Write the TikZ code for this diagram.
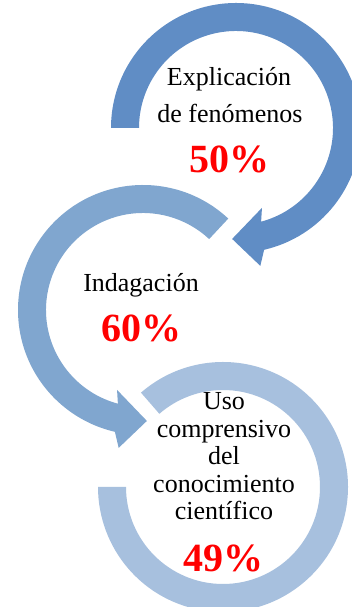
\documentclass[tikz,border=0pt]{standalone}
\usepackage{fontspec}
\setmainfont{Liberation Serif}
\definecolor{ringA}{RGB}{96,141,197}
\definecolor{ringB}{RGB}{128,166,207}
\definecolor{ringC}{RGB}{167,192,222}
\definecolor{pctred}{RGB}{255,0,0}
\begin{document}
\begin{tikzpicture}[x=1pt,y=1pt,
  lbl/.style={anchor=base, inner sep=0pt, font=\fontsize{26}{28}\selectfont, text=black},
  pct/.style={anchor=base, inner sep=0pt, font=\bfseries\fontsize{40}{40}\selectfont, text=pctred}]
\useasboundingbox (0,0) rectangle (352,607);
\clip (0,0) rectangle (352,607);
\fill[white] (0,0) rectangle (352,607);
\coordinate (c1) at (236,479);
\coordinate (c2) at (143,297);
\coordinate (c3) at (223,120);
% arrow 1 (top, clockwise)
\begin{scope}[shift={(c1)}]
\fill[ringA] (180:97) -- (180:125) arc[start angle=180,end angle=-77,radius=125]
  -- (-80:140) -- (-92:111) -- (-72:84) -- (-75:97)
  arc[start angle=-75,end angle=180,radius=97] -- cycle;
\end{scope}
% arrow 2 (middle, counter-clockwise)
\begin{scope}[shift={(c2)}]
\fill[ringB] (47:97) -- (47:125) arc[start angle=47,end angle=257,radius=125]
  -- (260:140) -- (272:111) -- (252:84) -- (255:97)
  arc[start angle=255,end angle=47,radius=97] -- cycle;
\end{scope}
% arrow 3 (bottom ring)
\begin{scope}[shift={(c3)}]
\fill[ringC] (131:125) arc[start angle=131,end angle=-180,radius=125]
  -- (180:97) arc[start angle=-180,end angle=131,radius=97] -- cycle;
\end{scope}
% texts
\node[lbl] (t1a) at (229,521) {Explicación};
\node[lbl] (t1b) at (230,484) {de fenómenos};
\node[pct] (p1) at (229,434) {50\%};
\node[lbl] (t2a) at (141,315) {Indagación};
\node[pct] (p2) at (141,265) {60\%};
\node[lbl] (t3a) at (224,197) {Uso};
\node[lbl] (t3b) at (224,169) {comprensivo};
\node[lbl] (t3c) at (224,142) {del};
\node[lbl] (t3d) at (224,114) {conocimiento};
\node[lbl] (t3e) at (224,87) {científico};
\node[pct] (p3) at (223,35) {49\%};
\end{tikzpicture}
\end{document}
